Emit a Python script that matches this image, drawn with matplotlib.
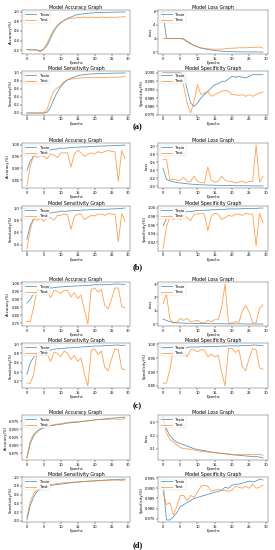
import matplotlib
matplotlib.use('Agg')
import matplotlib.pyplot as plt

epochs = list(range(30))

# ---- panel (a)
a_acc_train = [0.21, 0.20, 0.21, 0.20, 0.19, 0.22, 0.30, 0.45, 0.60, 0.70, 0.77, 0.82, 0.86, 0.89, 0.92, 0.94, 0.95, 0.96, 0.97, 0.975,
               0.98, 0.982, 0.985, 0.987, 0.988, 0.99, 0.992, 0.993, 0.994, 0.995]
a_acc_test = [0.21, 0.21, 0.20, 0.20, 0.16, 0.22, 0.35, 0.50, 0.63, 0.72, 0.78, 0.82, 0.85, 0.86, 0.87, 0.88, 0.88, 0.89, 0.88, 0.89,
              0.88, 0.88, 0.89, 0.88, 0.88, 0.89, 0.88, 0.89, 0.89, 0.90]
a_loss_train = [5.9, 2.0, 2.0, 2.0, 2.0, 2.0, 1.95, 1.6, 1.3, 1.0, 0.8, 0.6, 0.5, 0.4, 0.32, 0.25, 0.2, 0.15, 0.12, 0.1,
                0.08, 0.07, 0.06, 0.05, 0.05, 0.04, 0.04, 0.035, 0.03, 0.03]
a_loss_test = [2.0, 2.0, 2.0, 2.0, 2.0, 2.0, 1.9, 1.5, 1.2, 0.95, 0.8, 0.65, 0.55, 0.5, 0.45, 0.45, 0.45, 0.45, 0.5, 0.55,
               0.6, 0.6, 0.65, 0.65, 0.65, 0.7, 0.7, 0.75, 0.75, 0.6]
a_sens_train = [0.0, 0.0, 0.0, 0.0, 0.0, 0.0, 0.02, 0.15, 0.35, 0.52, 0.65, 0.75, 0.82, 0.86, 0.89, 0.92, 0.94, 0.95, 0.96, 0.965,
                0.97, 0.975, 0.978, 0.98, 0.982, 0.985, 0.987, 0.988, 0.99, 0.99]
a_sens_test = [0.0, 0.0, 0.0, 0.0, 0.0, 0.0, 0.1, 0.35, 0.55, 0.62, 0.68, 0.78, 0.82, 0.84, 0.85, 0.86, 0.87, 0.87, 0.88, 0.87,
               0.88, 0.88, 0.87, 0.88, 0.88, 0.89, 0.88, 0.89, 0.89, 0.90]
a_spec_train = [1.0, 1.0, 1.0, 1.0, 1.0, 1.0, 0.999, 0.99, 0.982, 0.980, 0.982, 0.985, 0.987, 0.989, 0.991, 0.993, 0.9935, 0.995, 0.995, 0.9965,
                0.998, 0.9975, 0.998, 0.9975, 0.997, 0.998, 0.999, 0.999, 0.999, 0.999]
a_spec_test = [1.0, 1.0, 1.0, 1.0, 1.0, 1.0, 0.992, 0.982, 0.976, 0.983, 0.993, 0.987, 0.988, 0.989, 0.986, 0.987, 0.988, 0.989, 0.9895, 0.989,
               0.987, 0.987, 0.9865, 0.987, 0.986, 0.987, 0.986, 0.987, 0.988, 0.9885]

# ---- panel (b)
b_acc_train = [0.89, 0.93, 0.95, 0.96, 0.965, 0.97, 0.975, 0.978, 0.98, 0.982, 0.985, 0.984, 0.986, 0.987, 0.988, 0.989, 0.99, 0.99, 0.991, 0.992,
               0.993, 0.993, 0.994, 0.994, 0.995, 0.995, 0.996, 0.996, 0.997, 0.998]
b_acc_test = [0.825, 0.91, 0.955, 0.945, 0.955, 0.95, 0.94, 0.96, 0.955, 0.945, 0.965, 0.965, 0.965, 0.905, 0.96, 0.975, 0.965, 0.95, 0.96, 0.965,
              0.96, 0.97, 0.965, 0.97, 0.975, 0.97, 0.97, 0.845, 0.975, 0.94]
b_loss_train = [0.45, 0.17, 0.13, 0.11, 0.09, 0.08, 0.07, 0.06, 0.05, 0.045, 0.04, 0.035, 0.03, 0.028, 0.025, 0.022, 0.02, 0.018, 0.016, 0.015,
                0.014, 0.013, 0.012, 0.011, 0.01, 0.009, 0.008, 0.007, 0.006, 0.005]
b_loss_test = [0.67, 0.68, 0.15, 0.18, 0.15, 0.15, 0.22, 0.12, 0.12, 0.25, 0.12, 0.09, 0.08, 0.48, 0.15, 0.1, 0.12, 0.25, 0.15, 0.12,
               0.12, 0.08, 0.1, 0.13, 0.08, 0.12, 0.12, 1.03, 0.1, 0.25]
b_sens_train = [0.49, 0.72, 0.82, 0.85, 0.88, 0.9, 0.91, 0.92, 0.93, 0.935, 0.95, 0.945, 0.95, 0.955, 0.96, 0.96, 0.965, 0.97, 0.97, 0.975,
                0.975, 0.978, 0.98, 0.98, 0.982, 0.985, 0.987, 0.99, 0.995, 1.0]
b_sens_test = [0.33, 0.65, 0.83, 0.8, 0.83, 0.78, 0.86, 0.84, 0.8, 0.88, 0.88, 0.9, 0.89, 0.65, 0.86, 0.9, 0.9, 0.81, 0.85, 0.88,
               0.87, 0.9, 0.9, 0.88, 0.91, 0.9, 0.9, 0.45, 0.91, 0.78]
b_spec_train = [0.958, 0.975, 0.982, 0.985, 0.987, 0.989, 0.99, 0.991, 0.991, 0.992, 0.994, 0.993, 0.994, 0.994, 0.995, 0.995, 0.996, 0.996, 0.996, 0.997,
                0.997, 0.997, 0.997, 0.998, 0.998, 0.998, 0.998, 0.998, 0.999, 0.999]
b_spec_test = [0.905, 0.955, 0.98, 0.972, 0.98, 0.973, 0.983, 0.977, 0.97, 0.985, 0.985, 0.987, 0.985, 0.947, 0.98, 0.987, 0.985, 0.973, 0.977, 0.982,
               0.98, 0.985, 0.985, 0.982, 0.987, 0.985, 0.985, 0.912, 0.987, 0.965]

# ---- panel (c)
c_acc_train = [0.875, 0.9, 0.935, 0.955, 0.96, 0.965, 0.968, 0.97, 0.972, 0.975, 0.977, 0.978, 0.98, 0.981, 0.982, 0.983, 0.984, 0.985, 0.986, 0.988,
               0.99, 0.99, 0.99, 0.991, 0.992, 0.993, 0.995, 0.995, 0.993, 0.993]
c_acc_test = [0.76, 0.76, 0.85, 0.96, 0.945, 0.94, 0.945, 0.91, 0.955, 0.95, 0.935, 0.955, 0.955, 0.915, 0.94, 0.905, 0.925, 0.83, 0.745, 0.96,
              0.97, 0.945, 0.96, 0.86, 0.84, 0.9, 0.97, 0.97, 0.855, 0.845]
c_loss_train = [0.4, 0.3, 0.2, 0.15, 0.12, 0.1, 0.09, 0.08, 0.08, 0.07, 0.07, 0.06, 0.06, 0.06, 0.05, 0.05, 0.05, 0.05, 0.04, 0.04,
                0.04, 0.04, 0.04, 0.04, 0.03, 0.03, 0.03, 0.03, 0.03, 0.03]
c_loss_test = [1.55, 2.25, 0.4, 0.1, 0.15, 0.45, 0.3, 0.45, 0.2, 0.25, 0.3, 0.15, 0.1, 0.3, 0.2, 0.35, 0.35, 1.25, 3.0, 0.1,
               0.1, 0.2, 0.15, 1.0, 1.4, 0.9, 0.1, 0.12, 1.2, 1.45]
c_sens_train = [0.35, 0.6, 0.72, 0.8, 0.83, 0.85, 0.86, 0.87, 0.89, 0.9, 0.9, 0.91, 0.92, 0.92, 0.93, 0.93, 0.94, 0.94, 0.95, 0.95,
                0.96, 0.96, 0.96, 0.97, 0.97, 0.97, 0.98, 0.98, 0.97, 0.98]
c_sens_test = [0.16, 0.16, 0.35, 0.8, 0.78, 0.75, 0.78, 0.63, 0.83, 0.8, 0.73, 0.85, 0.8, 0.67, 0.76, 0.63, 0.7, 0.35, 0.1, 0.87,
               0.9, 0.78, 0.85, 0.5, 0.43, 0.68, 0.9, 0.88, 0.47, 0.45]
c_spec_train = [0.98, 0.985, 0.99, 0.99, 0.985, 0.985, 0.985, 0.988, 0.99, 0.99, 0.99, 0.991, 0.991, 0.991, 0.992, 0.992, 0.992, 0.993, 0.993, 0.994,
                0.994, 0.994, 0.994, 0.995, 0.995, 0.995, 0.997, 0.997, 0.995, 0.995]
c_spec_test = [0.86, 0.86, 0.91, 0.98, 0.97, 0.965, 0.97, 0.955, 0.98, 0.98, 0.972, 0.98, 0.98, 0.955, 0.965, 0.955, 0.96, 0.9, 0.85, 0.985,
               0.985, 0.97, 0.98, 0.92, 0.905, 0.95, 0.985, 0.98, 0.915, 0.91]

# ---- panel (d)
d_acc_train = [0.86, 0.905, 0.93, 0.945, 0.95, 0.955, 0.96, 0.962, 0.963, 0.965, 0.966, 0.968, 0.97, 0.971, 0.972, 0.973, 0.975, 0.976, 0.977, 0.978,
               0.98, 0.981, 0.982, 0.983, 0.984, 0.985, 0.986, 0.987, 0.988, 0.989]
d_acc_test = [0.862, 0.915, 0.935, 0.94, 0.955, 0.962, 0.962, 0.963, 0.965, 0.967, 0.968, 0.97, 0.972, 0.973, 0.974, 0.974, 0.975, 0.976, 0.977, 0.978,
              0.98, 0.981, 0.981, 0.982, 0.982, 0.983, 0.983, 0.982, 0.982, 0.985]
d_loss_train = [0.34, 0.25, 0.2, 0.17, 0.15, 0.14, 0.13, 0.12, 0.11, 0.1, 0.095, 0.09, 0.085, 0.08, 0.075, 0.07, 0.068, 0.065, 0.062, 0.058,
                0.055, 0.052, 0.05, 0.048, 0.045, 0.043, 0.04, 0.04, 0.037, 0.03]
d_loss_test = [0.33, 0.22, 0.17, 0.15, 0.13, 0.11, 0.1, 0.1, 0.095, 0.09, 0.085, 0.08, 0.078, 0.075, 0.072, 0.07, 0.066, 0.065, 0.063, 0.06,
               0.058, 0.055, 0.055, 0.055, 0.055, 0.055, 0.055, 0.055, 0.058, 0.05]
d_sens_train = [0.02, 0.35, 0.55, 0.67, 0.73, 0.77, 0.79, 0.81, 0.82, 0.83, 0.84, 0.85, 0.86, 0.87, 0.88, 0.885, 0.89, 0.9, 0.905, 0.91,
                0.915, 0.92, 0.925, 0.93, 0.935, 0.94, 0.94, 0.945, 0.95, 0.955]
d_sens_test = [0.08, 0.45, 0.62, 0.72, 0.77, 0.8, 0.82, 0.83, 0.84, 0.85, 0.86, 0.87, 0.875, 0.88, 0.885, 0.89, 0.9, 0.9, 0.905, 0.91,
               0.91, 0.915, 0.92, 0.92, 0.925, 0.93, 0.93, 0.93, 0.92, 0.935]
d_spec_train = [0.993, 0.9745, 0.9745, 0.976, 0.978, 0.981, 0.982, 0.983, 0.984, 0.985, 0.9855, 0.986, 0.9865, 0.987, 0.9875, 0.988, 0.9885, 0.989, 0.9905, 0.990,
                0.9915, 0.992, 0.992, 0.9925, 0.993, 0.9935, 0.993, 0.9935, 0.9945, 0.994]
d_spec_test = [0.988, 0.982, 0.983, 0.977, 0.981, 0.9865, 0.9865, 0.984, 0.9865, 0.9855, 0.988, 0.991, 0.9915, 0.991, 0.9885, 0.989, 0.9895, 0.989, 0.989, 0.9885,
               0.989, 0.991, 0.9905, 0.990, 0.991, 0.990, 0.992, 0.990, 0.9905, 0.9915]

titles = ['Model Accuracy Graph', 'Model Loss Graph', 'Model Sensitivity Graph', 'Model Specificity Graph']
ylabels = ['Accuracy(%)', 'Loss', 'Sensitivity(%)', 'Specificity(%)']
captions = ['(a)', '(b)', '(c)', '(d)']

panels = [
    [(a_acc_train, a_acc_test), (a_loss_train, a_loss_test), (a_sens_train, a_sens_test), (a_spec_train, a_spec_test)],
    [(b_acc_train, b_acc_test), (b_loss_train, b_loss_test), (b_sens_train, b_sens_test), (b_spec_train, b_spec_test)],
    [(c_acc_train, c_acc_test), (c_loss_train, c_loss_test), (c_sens_train, c_sens_test), (c_spec_train, c_spec_test)],
    [(d_acc_train, d_acc_test), (d_loss_train, d_loss_test), (d_sens_train, d_sens_test), (d_spec_train, d_spec_test)],
]

# pixel layout of the rows (top, bottom) and caption y
W, H = 275, 550
row_px = [(10, 54), (71, 115), (143, 188), (206, 251), (282, 326), (343, 388), (415, 460), (477, 522)]
cap_px = [127, 267, 406, 545]
col_px = [(22, 130), (158, 268)]

fig = plt.figure(figsize=(2.75, 5.5), dpi=100)

for p, panel in enumerate(panels):
    for k, (train, test) in enumerate(panel):
        top, bot = row_px[2 * p + k // 2]
        left, right = col_px[k % 2]
        ax = fig.add_axes([left / W, 1 - bot / H, (right - left) / W, (bot - top) / H])
        ax.plot(epochs, train, color='#1f77b4', lw=0.6, alpha=0.75, label='Train')
        ax.plot(epochs, test, color='#ff7f0e', lw=0.6, alpha=0.75, label='Test')
        ax.set_title(titles[k], fontsize=3.4, pad=1.0)
        ax.set_xlabel('Epochs', fontsize=2.7, labelpad=0.5)
        ax.set_ylabel(ylabels[k], fontsize=2.7, labelpad=0.6)
        ax.set_xticks([0, 5, 10, 15, 20, 25, 30])
        ax.tick_params(labelsize=2.6, length=1.2, width=0.3, pad=0.6)
        for s in ax.spines.values():
            s.set_linewidth(0.3)
            s.set_color('#444444')
        leg = ax.legend(loc='upper left', fontsize=2.8, frameon=True, handlelength=3.0,
                        borderaxespad=0.4, borderpad=0.3, labelspacing=0.3, fancybox=True)
        leg.get_frame().set_linewidth(0.3)
    fig.text(0.5, 1 - cap_px[p] / H, captions[p], ha='center', va='center',
             fontsize=6, fontweight='bold', family='Liberation Serif')

fig.savefig('out.png', dpi=100)
